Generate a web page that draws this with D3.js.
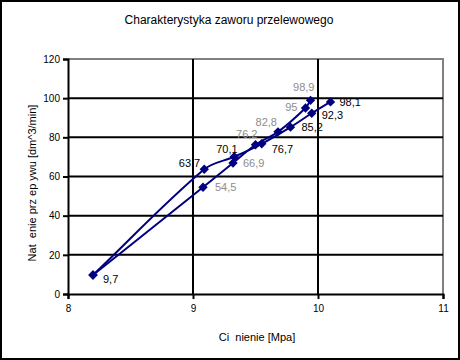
<!DOCTYPE html>
<html>
<head>
<meta charset="utf-8">
<script src="https://cdn.jsdelivr.net/npm/d3@7"></script>
<style>
  body { margin: 0; background: #fff; }
  svg { display: block; font-family: "Liberation Sans", Arial, sans-serif; }
</style>
</head>
<body>
<div id="chart"></div>
<script>
'use strict';

// series with gray labels
const pressureA = [8.2, 9.08, 9.32, 9.5, 9.68, 9.9, 9.94];
const flowA = [9.7, 54.5, 66.9, 76.2, 82.8, 95, 98.9];
const labelsA = ["", "54,5", "66,9", "76,2", "82,8", "95", "98,9"];

// series with black labels
const pressureB = [8.2, 9.09, 9.33, 9.55, 9.78, 9.95, 10.1];
const flowB = [9.7, 63.7, 70.1, 76.7, 85.2, 92.3, 98.1];
const labelsB = ["9,7", "63,7", "70,1", "76,7", "85,2", "92,3", "98,1"];

const xTicks = [8, 9, 10, 11];
const yTicks = [0, 20, 40, 60, 80, 100, 120];

// label offsets (dx, dy, anchor) for placement only
const offsA = [[0, 0, "start"], [12, 0, "start"], [10, 0, "start"], [2, -11, "end"], [-1, -10, "end"], [-8, -1, "end"], [4, -13, "end"]];
const offsB = [[10, 4, "start"], [-4, -6, "end"], [-18, -8, "start"], [10, 5, "start"], [11, 0, "start"], [10, 2, "start"], [9, 0, "start"]];

const W = 460, H = 360;
const margin = { top: 59, right: 17, bottom: 66, left: 68 };
const width = W - margin.left - margin.right;
const height = H - margin.top - margin.bottom;

// smoothing like the spreadsheet: tangent along neighbours, handles scaled by segment length
function curveSmooth(context) {
    let pts = [];
    return {
        areaStart() {}, areaEnd() {},
        lineStart() { pts = []; },
        point(px, py) { pts.push([+px, +py]); },
        lineEnd() {
            const n = pts.length;
            if (!n) return;
            const tan = pts.map((p, i) => {
                const a = pts[Math.max(0, i - 1)], b = pts[Math.min(n - 1, i + 1)];
                const dx = b[0] - a[0], dy = b[1] - a[1], l = Math.hypot(dx, dy) || 1;
                return [dx / l, dy / l];
            });
            context.moveTo(pts[0][0], pts[0][1]);
            for (let i = 0; i < n - 1; i++) {
                const p = pts[i], q = pts[i + 1];
                const L = Math.hypot(q[0] - p[0], q[1] - p[1]) / 3;
                context.bezierCurveTo(
                    p[0] + tan[i][0] * L, p[1] + tan[i][1] * L,
                    q[0] - tan[i + 1][0] * L, q[1] - tan[i + 1][1] * L,
                    q[0], q[1]);
            }
        }
    };
}

const svg = d3.select("#chart").append("svg")
    .attr("width", W)
    .attr("height", H);

svg.append("rect")
    .attr("x", 1).attr("y", 1)
    .attr("width", W - 2).attr("height", H - 2)
    .attr("fill", "#fff")
    .attr("stroke", "#000")
    .attr("stroke-width", 2);

svg.append("text")
    .attr("x", 229).attr("y", 24)
    .attr("text-anchor", "middle")
    .style("font-size", "12px")
    .text("Charakterystyka zaworu przelewowego");

const g = svg.append("g")
    .attr("transform", `translate(${margin.left},${margin.top})`);

const x = d3.scaleLinear().domain([8, 11]).range([0, width]);
const y = d3.scaleLinear().domain([0, 120]).range([height, 0]);

// plot border (gray top/right)
g.append("path")
    .attr("d", `M0,${y(120)}H${x(11)}V${y(0)}`)
    .attr("fill", "none")
    .attr("stroke", "#808080")
    .attr("stroke-width", 2);

// gridlines
g.selectAll(".hgrid")
    .data(yTicks.filter(d => d > 0 && d < 120))
    .enter().append("line")
    .attr("class", "hgrid")
    .attr("x1", 0).attr("x2", width)
    .attr("y1", d => y(d)).attr("y2", d => y(d))
    .attr("stroke", "#000").attr("stroke-width", 2);

g.selectAll(".vgrid")
    .data(xTicks.filter(d => d > 8 && d < 11))
    .enter().append("line")
    .attr("class", "vgrid")
    .attr("x1", d => x(d)).attr("x2", d => x(d))
    .attr("y1", 0).attr("y2", height)
    .attr("stroke", "#000").attr("stroke-width", 2);

// axes
const yAxis = g.append("g")
    .call(d3.axisLeft(y).tickValues(yTicks).tickSize(5).tickPadding(3));
const xAxis = g.append("g")
    .attr("transform", `translate(0,${height})`)
    .call(d3.axisBottom(x).tickValues(xTicks).tickSize(5).tickPadding(6).tickFormat(d3.format("d")));

[yAxis, xAxis].forEach(a => {
    a.select(".domain").attr("stroke", "#000").attr("stroke-width", 2);
    a.selectAll(".tick line").attr("stroke", "#000").attr("stroke-width", 2);
    a.selectAll(".tick text")
        .style("font-size", "10px")
        .style("font-family", "'Liberation Sans', Arial, sans-serif")
        .attr("fill", "#000");
});

// axis titles
svg.append("text")
    .attr("x", 257).attr("y", 341)
    .attr("text-anchor", "middle")
    .style("font-size", "11px")
    .text("Ci\u00a0\u00a0nienie [Mpa]");

svg.append("text")
    .attr("transform", "translate(36,183) rotate(-90)")
    .attr("text-anchor", "middle")
    .style("font-size", "11px")
    .text("Nat\u00a0\u00a0enie prz ep ywu [dm^3/min]");

// smoothed lines
const line = d3.line()
    .x(d => x(d[0]))
    .y(d => y(d[1]))
    .curve(curveSmooth);

const seriesA = pressureA.map((p, i) => [p, flowA[i]]);
const seriesB = pressureB.map((p, i) => [p, flowB[i]]);

[seriesA, seriesB].forEach(s => {
    g.append("path")
        .datum(s)
        .attr("d", line)
        .attr("fill", "none")
        .attr("stroke", "#000080")
        .attr("stroke-width", 2);

    g.selectAll(null)
        .data(s)
        .enter().append("path")
        .attr("d", d3.symbol().type(d3.symbolDiamond2).size(56))
        .attr("transform", d => `translate(${x(d[0])},${y(d[1])})`)
        .attr("fill", "#000080");
});

// data labels
function addLabels(series, labels, offs, color) {
    g.selectAll(null)
        .data(series)
        .enter().append("text")
        .attr("x", (d, i) => x(d[0]) + offs[i][0])
        .attr("y", (d, i) => y(d[1]) + offs[i][1])
        .attr("dy", "0.35em")
        .attr("text-anchor", (d, i) => offs[i][2])
        .attr("fill", color)
        .style("font-size", "11px")
        .text((d, i) => labels[i]);
}

addLabels(seriesA, labelsA, offsA, "#8c8c8c");
addLabels(seriesB, labelsB, offsB, "#000");
</script>
</body>
</html>
